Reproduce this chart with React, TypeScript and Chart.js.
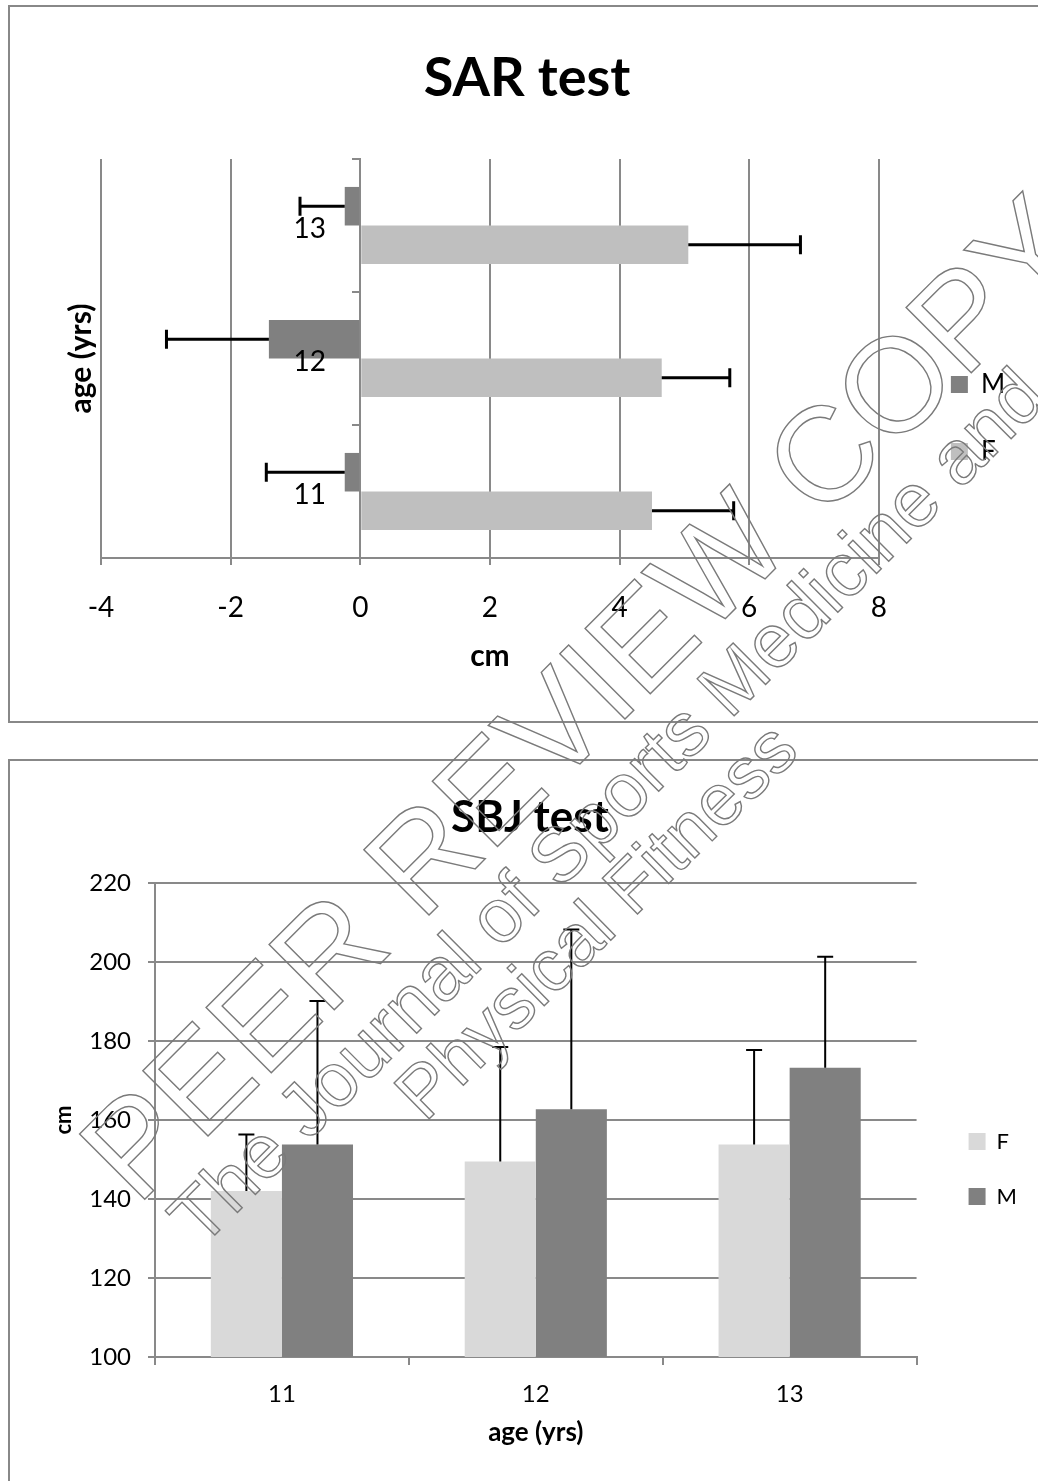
import React, { useEffect, useRef } from 'react';
import { Chart, registerables } from 'chart.js';

Chart.register(...registerables);

// ---------------- data ----------------
const ages = ['11', '12', '13'];

// SAR test (cm), horizontal bars
const sarSeriesNames = ['M', 'F'];
const sarM = [-0.24, -1.41, -0.24];
const sarMErr = [1.21, 1.58, 0.69];
const sarF = [4.5, 4.65, 5.06];
const sarFErr = [1.26, 1.05, 1.73];
const sarTickMin = -4;
const sarTickMax = 8;
const sarTickStep = 2;

// SBJ test (cm), vertical bars
const sbjSeriesNames = ['F', 'M'];
const sbjF = [142.0, 149.5, 153.8];
const sbjFErr = [14.3, 29.0, 23.9];
const sbjM = [153.8, 162.7, 173.2];
const sbjMErr = [36.3, 45.5, 28.1];
const sbjTickMin = 100;
const sbjTickMax = 220;
const sbjTickStep = 20;

// ---------------- styles ----------------
const FONT = 'Lato, "Open Sans", "DejaVu Sans", sans-serif';
const GRID = '#898989';
const DARK = '#808080';
const LIGHT_TOP = '#bfbfbf';
const LIGHT_BOTTOM = '#d9d9d9';

Chart.defaults.font.family = FONT;
Chart.defaults.color = '#000';

const WATERMARK = [
  { text: 'PEER REVIEW COPY', x: 137, y: 1207, size: 134, angle: -45 },
  { text: 'The Journal of Sports Medicine and', x: 201, y: 1249, size: 76, angle: -45 },
  { text: 'Physical Fitness', x: 425, y: 1123, size: 73, angle: -44.5 },
];

const errorBarPlugin = {
  id: 'errorBars',
  afterDatasetsDraw(chart: any, _args: any, opts: any) {
    const ctx = chart.ctx;
    const horizontal = chart.options.indexAxis === 'y';
    ctx.save();
    ctx.strokeStyle = opts.color || '#000';
    ctx.lineWidth = opts.lineWidth;
    ctx.lineCap = 'butt';
    chart.data.datasets.forEach((ds: any, di: number) => {
      const errs = opts.errors[di];
      if (!errs) return;
      const meta = chart.getDatasetMeta(di);
      const vScale = horizontal ? chart.scales[meta.xAxisID] : chart.scales[meta.yAxisID];
      meta.data.forEach((bar: any, i: number) => {
        const v = ds.data[i];
        const e = errs[i];
        const end = v + (v < 0 ? -e : e);
        const p0 = vScale.getPixelForValue(v);
        const p1 = vScale.getPixelForValue(end);
        const half = opts.capLength / 2;
        ctx.beginPath();
        if (horizontal) {
          const y = bar.y;
          ctx.moveTo(p0, y);
          ctx.lineTo(p1, y);
          ctx.moveTo(p1, y - half);
          ctx.lineTo(p1, y + half);
        } else {
          const x = bar.x;
          ctx.moveTo(x, p0);
          ctx.lineTo(x, p1);
          ctx.moveTo(x - half, p1);
          ctx.lineTo(x + half, p1);
        }
        ctx.stroke();
      });
    });
    ctx.restore();
  },
};

const watermarkPlugin = {
  id: 'watermark',
  afterDraw(chart: any, _args: any, opts: any) {
    const ctx = chart.ctx;
    ctx.save();
    ctx.translate(-opts.originX, -opts.originY);
    ctx.strokeStyle = '#7a7a7a';
    ctx.lineWidth = 1.4;
    ctx.textAlign = 'left';
    ctx.textBaseline = 'alphabetic';
    for (const l of WATERMARK) {
      ctx.save();
      ctx.translate(l.x, l.y);
      ctx.rotate((l.angle * Math.PI) / 180);
      ctx.font = `${l.size}px "Liberation Sans", Arial, sans-serif`;
      ctx.strokeText(l.text, 0, 0);
      ctx.restore();
    }
    ctx.restore();
  },
};

const hiddenScale = (position: string, width: number, extra: any = {}) => ({
  type: 'category',
  axis: 'y',
  position,
  grid: { display: false, drawTicks: false },
  border: { display: false },
  ticks: { display: false },
  afterFit: (s: any) => {
    s.width = width;
  },
  ...extra,
});

function sarConfig(): any {
  return {
    type: 'bar',
    data: {
      labels: ages,
      datasets: [
        {
          label: sarSeriesNames[0],
          data: sarM,
          backgroundColor: DARK,
          borderWidth: 0,
          categoryPercentage: 0.58,
          barPercentage: 1,
          xAxisID: 'x',
          yAxisID: 'y',
        },
        {
          label: sarSeriesNames[1],
          data: sarF,
          backgroundColor: LIGHT_TOP,
          borderWidth: 0,
          categoryPercentage: 0.58,
          barPercentage: 1,
          xAxisID: 'x',
          yAxisID: 'y',
        },
      ],
    },
    plugins: [errorBarPlugin, watermarkPlugin],
    options: {
      indexAxis: 'y',
      animation: false,
      responsive: false,
      events: [],
      layout: { padding: { left: 38.4, right: 32.4, top: 0, bottom: 87 } },
      scales: {
        x: {
          type: 'linear',
          position: 'bottom',
          min: sarTickMin,
          max: sarTickMax,
          ticks: { stepSize: sarTickStep, color: '#000', font: { size: 28 }, padding: 25.7 },
          grid: { color: GRID, lineWidth: 2, tickLength: 7 },
          border: { color: GRID, width: 2 },
          title: { display: true, text: 'cm', color: '#000', font: { size: 30, weight: 'bold' }, padding: 0 },
          afterFit: (s: any) => {
            s.height = 116;
          },
        },
        // axis line + tick marks, crossing at x = 0
        y: {
          type: 'category',
          position: { x: 0 },
          reverse: true,
          offset: true,
          grid: { drawOnChartArea: false, offset: true, color: GRID, lineWidth: 2, tickLength: 7 },
          border: { color: GRID, width: 2 },
          ticks: { display: false },
        },
        // category labels just left of the zero axis, drawn above the bars
        yLabels: {
          type: 'category',
          axis: 'y',
          position: { x: -0.53 },
          reverse: true,
          offset: true,
          grid: { display: false, drawTicks: false },
          border: { display: false },
          ticks: { color: '#000', font: { size: 28 }, padding: 0, labelOffset: 3, z: 1 },
        },
        yTitle: hiddenScale('left', 52.6, {
          title: {
            display: true,
            text: 'age (yrs)',
            color: '#000',
            font: { size: 30, weight: 'bold' },
            padding: { top: 14.6, bottom: 0 },
          },
        }),
        yGap: hiddenScale('right', 31),
      },
      plugins: {
        title: {
          display: true,
          text: 'SAR test',
          color: '#000',
          font: { size: 54, weight: 'bold' },
          padding: { top: 39.5, bottom: 47.7 },
        },
        legend: {
          display: true,
          position: 'right',
          align: 'start',
          title: { display: true, text: '', font: { size: 10, lineHeight: 1 }, padding: { top: 313.5, bottom: 0 } },
          labels: { boxWidth: 17, boxHeight: 17, padding: 41, color: '#000', font: { size: 26 } },
        },
        tooltip: { enabled: false },
        errorBars: { errors: [sarMErr, sarFErr], lineWidth: 3, capLength: 19, color: '#000' },
        watermark: { originX: 10, originY: 7 },
      },
    },
  };
}

function sbjConfig(): any {
  return {
    type: 'bar',
    data: {
      labels: ages,
      datasets: [
        {
          label: sbjSeriesNames[0],
          data: sbjF,
          backgroundColor: LIGHT_BOTTOM,
          borderWidth: 0,
          categoryPercentage: 0.56,
          barPercentage: 1,
          xAxisID: 'x',
          yAxisID: 'y',
        },
        {
          label: sbjSeriesNames[1],
          data: sbjM,
          backgroundColor: DARK,
          borderWidth: 0,
          categoryPercentage: 0.56,
          barPercentage: 1,
          xAxisID: 'x',
          yAxisID: 'y',
        },
      ],
    },
    plugins: [errorBarPlugin, watermarkPlugin],
    options: {
      animation: false,
      responsive: false,
      events: [],
      layout: { padding: { left: 23, right: 11, top: 0, bottom: 32.8 } },
      scales: {
        x: {
          type: 'category',
          offset: true,
          grid: { drawOnChartArea: false, offset: true, color: GRID, lineWidth: 2, tickLength: 8 },
          border: { color: GRID, width: 2 },
          ticks: { color: '#000', font: { size: 24 }, padding: 14.4 },
          title: { display: true, text: 'age (yrs)', color: '#000', font: { size: 26, weight: 'bold' }, padding: 0 },
          afterFit: (s: any) => {
            s.height = 91.2;
          },
        },
        y: {
          type: 'linear',
          position: 'left',
          min: sbjTickMin,
          max: sbjTickMax,
          ticks: { stepSize: sbjTickStep, color: '#000', font: { size: 24 }, padding: 17 },
          grid: { color: GRID, lineWidth: 2, tickLength: 7 },
          border: { color: GRID, width: 2 },
          title: {
            display: true,
            text: 'cm',
            color: '#000',
            font: { size: 22, weight: 'bold' },
            padding: { top: 17.8, bottom: 0 },
          },
          afterFit: (s: any) => {
            s.width = 122;
          },
        },
        yGap: hiddenScale('right', 19),
      },
      plugins: {
        title: {
          display: true,
          text: 'SBJ test',
          color: '#000',
          font: { size: 44, weight: 'bold' },
          padding: { top: 30.9, bottom: 38.3 },
        },
        legend: {
          display: true,
          position: 'right',
          align: 'start',
          title: { display: true, text: '', font: { size: 10, lineHeight: 1 }, padding: { top: 326.5, bottom: 0 } },
          labels: { boxWidth: 17, boxHeight: 17, padding: 33, color: '#000', font: { size: 22 } },
        },
        tooltip: { enabled: false },
        errorBars: { errors: [sbjFErr, sbjMErr], lineWidth: 2, capLength: 16, color: '#000' },
        watermark: { originX: 10, originY: 761 },
      },
    },
  };
}

function ChartCanvas(props: { make: () => any; left: number; top: number; width: number; height: number }) {
  const ref = useRef<HTMLCanvasElement>(null);
  useEffect(() => {
    const chart = new Chart(ref.current as HTMLCanvasElement, props.make());
    return () => chart.destroy();
  }, []);
  return (
    <canvas
      ref={ref}
      width={props.width}
      height={props.height}
      style={{ position: 'absolute', left: props.left, top: props.top, width: props.width, height: props.height }}
    />
  );
}

export default function App() {
  const frame = (top: number, height: number): React.CSSProperties => ({
    position: 'absolute',
    left: 8,
    top,
    width: 1100,
    height,
    border: '2.5px solid #888',
    boxSizing: 'border-box',
  });
  return (
    <div
      style={{
        position: 'absolute',
        left: 0,
        top: 0,
        width: 1038,
        height: 1481,
        overflow: 'hidden',
        background: '#fff',
      }}
    >
      <div style={frame(5, 718)} />
      <div style={frame(758.5, 800)} />
      <ChartCanvas make={sarConfig} left={10} top={7} width={1028} height={754} />
      <ChartCanvas make={sbjConfig} left={10} top={761} width={1028} height={720} />
    </div>
  );
}
